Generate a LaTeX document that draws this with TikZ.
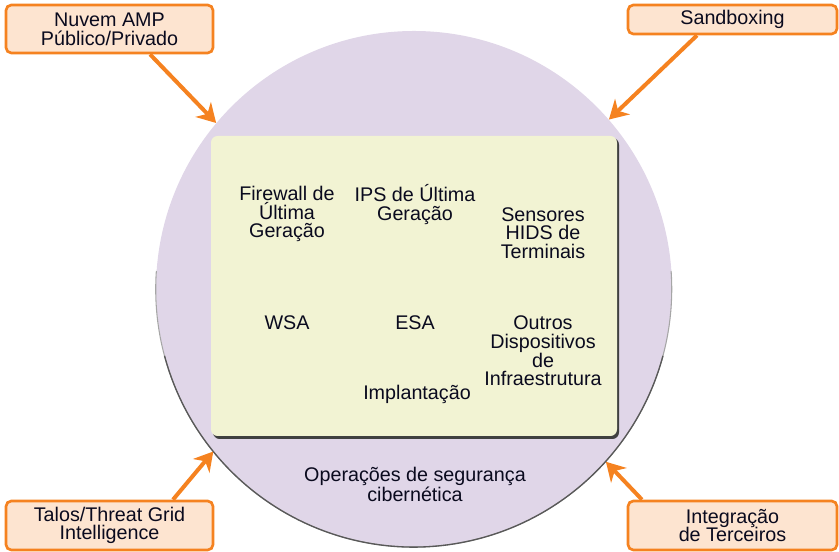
\documentclass[tikz,border=0pt]{standalone}
\usepackage{fontspec}
\setmainfont{Liberation Sans}
\usetikzlibrary{positioning,arrows.meta,calc}
\definecolor{opsfill}{RGB}{224,214,232}
\definecolor{panelfill}{RGB}{242,243,211}
\definecolor{boxfill}{RGB}{253,228,208}
\definecolor{boxline}{RGB}{245,130,32}
\definecolor{txt}{RGB}{10,10,30}
\tikzset{lbl/.style={align=center,text=txt,font=\fontsize{14.8}{14}\selectfont}}
\tikzset{srcbox/.style={lbl,draw=boxline,fill=boxfill,line width=2pt,rounded corners=4pt,inner sep=0pt}}
\tikzset{feed/.style={-{Stealth[length=14pt,width=16pt,inset=4.5pt]},draw=boxline,line width=3pt}}

\begin{document}
\begin{tikzpicture}[x=0.75pt,y=0.75pt]
  \useasboundingbox (0,0) rectangle (839,552);
  % circle
  \node[circle,fill=opsfill,minimum size=387pt,inner sep=0pt] (ops) at (414,263) {};
  \draw[black!35,line width=0.8pt] (ops.176) arc[start angle=176,end angle=364,radius=193.5pt];
  \draw[black!65,line width=1pt] (ops.195) arc[start angle=195,end angle=345,radius=193.5pt];
  % panel
  \fill[black!75,rounded corners=5pt] (213,113) rectangle (619,414);
  \node[fill=panelfill,rounded corners=5pt,minimum width=304.5pt,minimum height=225pt,inner sep=0pt] (panel) at (414,266) {};
  \node[lbl] (fw) at (287,338) {Firewall de\\Última\\Geração};
  \node[lbl] (ips) at (415,347.5) {IPS de Última\\Geração};
  \node[lbl] (hids) at (543,319) {Sensores\\HIDS de\\Terminais};
  \node[lbl] (wsa) at (287,229) {WSA};
  \node[lbl] (esa) at (415,229) {ESA};
  \node[lbl] (outros) at (543,201) {Outros\\Dispositivos\\de\\Infraestrutura};
  \node[lbl] (impl) at (417,158) {Implantação};
  \node[lbl] (opslbl) at (415,67.5) {Operações de segurança\\cibernética};
  % sources
  \node[srcbox,minimum width=155.25pt,minimum height=36pt] (nuvem) at (109.5,523) {Nuvem AMP\\Público/Privado};
  \node[srcbox,minimum width=156.75pt,minimum height=21.75pt] (sandbox) at (732.5,532.5) {Sandboxing};
  \node[srcbox,minimum width=155.25pt,minimum height=36.75pt] (talos) at (109.5,26.5) {Talos/Threat Grid\\Intelligence};
  \node[srcbox,minimum width=156.75pt,minimum height=36.75pt] (integ) at (732.5,26.5) {Integração\\de Terceiros};
  \draw[feed] ([xshift=30.4pt]nuvem.south) -- (ops.140.8);
  \draw[feed] ([xshift=-26.6pt]sandbox.south) -- (ops.41.2);
  \draw[feed] ([xshift=47.6pt]talos.north) -- (ops.219.6);
  \draw[feed] ([xshift=-67.9pt]integ.north) -- (ops.318.8);
\end{tikzpicture}
\end{document}
